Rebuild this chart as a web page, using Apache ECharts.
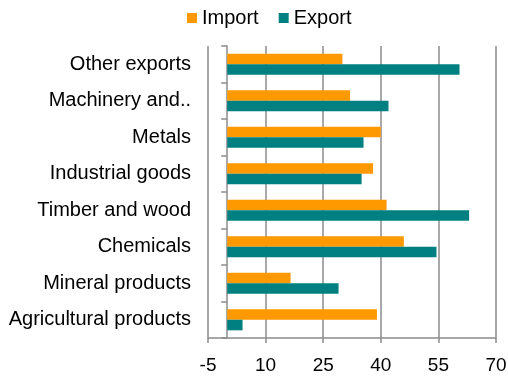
<!DOCTYPE html>
<html>
<head>
<meta charset="utf-8">
<script src="https://cdn.jsdelivr.net/npm/echarts@6/dist/echarts.min.js"></script>
<style>html,body{margin:0;padding:0;background:#fff}#c{width:508px;height:376px}</style>
</head>
<body>
<div id="c"></div>
<script>
const categories = ["Agricultural products", "Mineral products", "Chemicals", "Timber and wood", "Industrial goods", "Metals", "Machinery and..", "Other exports"];
const importValues = [39, 16.5, 46, 41.5, 38, 40, 32, 30];
const exportValues = [4, 29, 54.5, 63, 35, 35.5, 42, 60.5];
const seriesNames = ["Import", "Export"];

const chart = echarts.init(document.getElementById('c'), null, {renderer: 'canvas'});
const font = '"Liberation Sans", Arial, sans-serif';
chart.setOption({
  animation: false,
  textStyle: {fontFamily: font},
  legend: {
    data: seriesNames,
    top: 3,
    left: 182,
    itemWidth: 10,
    itemHeight: 10,
    itemGap: 20,
    icon: 'rect',
    textStyle: {fontSize: 20, color: '#000', fontFamily: font}
  },
  grid: {left: 208, right: 12, top: 46, bottom: 38, containLabel: false, outerBoundsMode: 'none'},
  xAxis: {
    type: 'value',
    min: -5, max: 70, interval: 15,
    axisLine: {show: true, lineStyle: {color: '#8c8c8c', width: 1.5}},
    axisTick: {show: true, length: 5, lineStyle: {color: '#8c8c8c', width: 1.5}},
    splitLine: {show: true, lineStyle: {color: '#8c8c8c', width: 1.5}},
    axisLabel: {fontSize: 19, color: '#000', margin: 18, fontFamily: font}
  },
  yAxis: {
    type: 'category',
    data: categories,
    axisLine: {show: true, onZero: true, lineStyle: {color: '#8c8c8c', width: 1.5}},
    axisTick: {show: true, length: 6, lineStyle: {color: '#8c8c8c', width: 1.5}},
    axisLabel: {fontSize: 20, color: '#000', margin: 17, fontFamily: font},
    splitLine: {show: false}
  },
  series: [
    {name: seriesNames[0], type: 'bar', data: importValues, itemStyle: {color: '#FF9900'}, barGap: '0%', barCategoryGap: '42%'},
    {name: seriesNames[1], type: 'bar', data: exportValues, itemStyle: {color: '#008080'}, barGap: '0%', barCategoryGap: '42%'}
  ]
});
</script>
</body>
</html>
